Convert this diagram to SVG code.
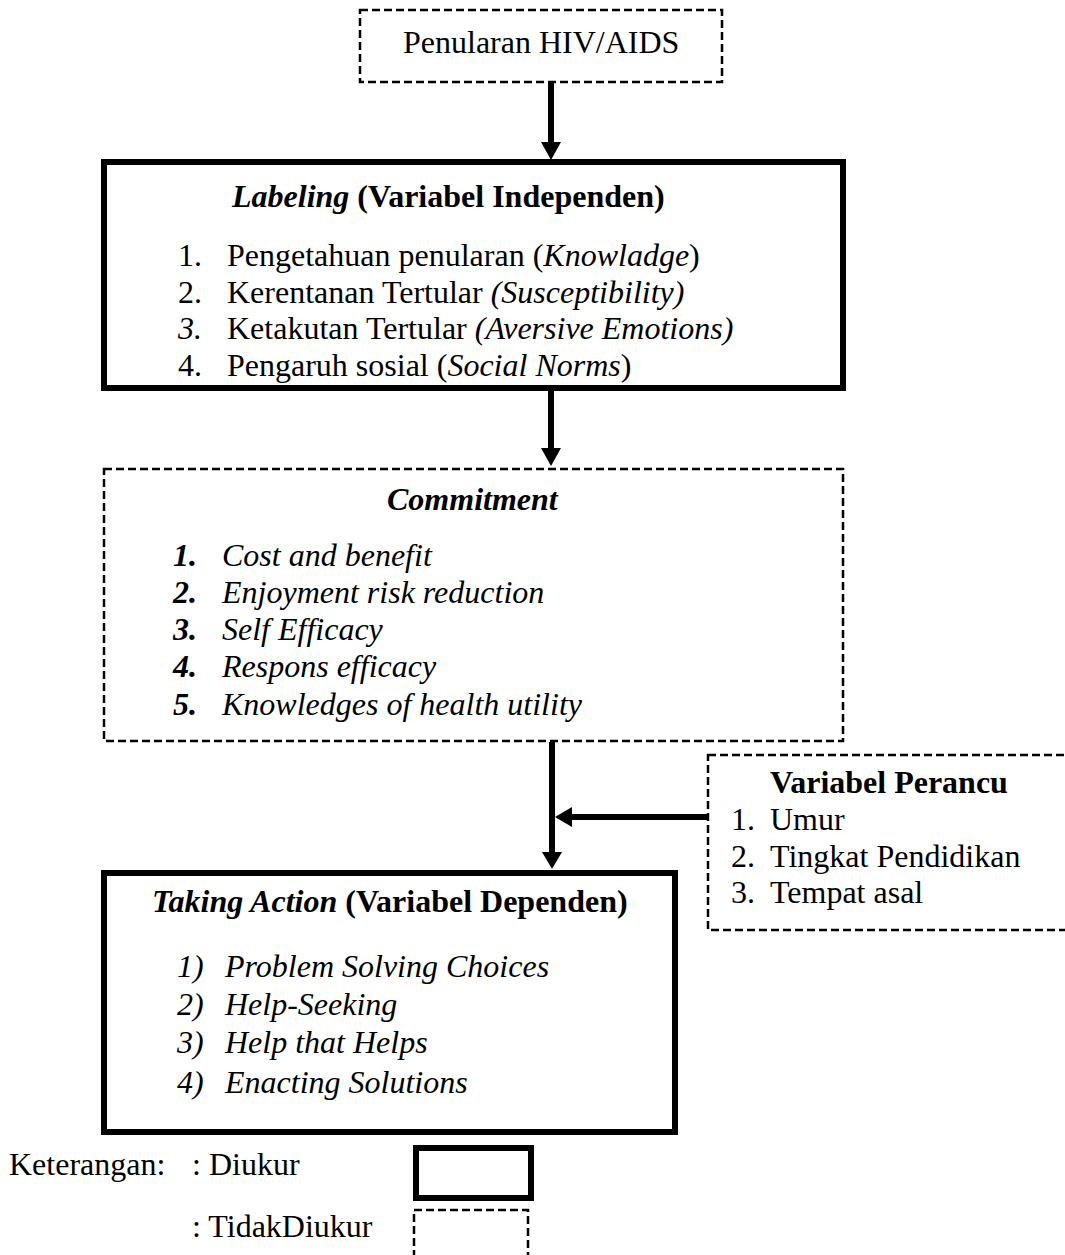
<svg xmlns="http://www.w3.org/2000/svg" width="1065" height="1255" viewBox="0 0 1065 1255">
<style>
text{font-family:"Liberation Serif","Times New Roman",serif;font-size:32px;fill:#000}
.i{font-style:italic}
.b{font-weight:bold}
.solid{fill:#fff;stroke:#000;stroke-width:6}
.dash{fill:#fff;stroke:#000;stroke-width:2.5;stroke-dasharray:8 4}
.ln{stroke:#000;stroke-width:6;fill:none}
.hd{fill:#000}
</style>
<rect width="1065" height="1255" fill="#fff"/>
<g id="connectors">
<line class="ln" x1="551" y1="83" x2="551" y2="146"/>
<polygon class="hd" points="541,142 561,142 551,160"/>
<line class="ln" x1="551" y1="390" x2="551" y2="452"/>
<polygon class="hd" points="541,448 561,448 551,466"/>
<line class="ln" x1="552" y1="742" x2="552" y2="856"/>
<polygon class="hd" points="542,852 562,852 552,869"/>
<line class="ln" x1="708" y1="817" x2="568" y2="817"/>
<polygon class="hd" points="572,807 572,827 555,817"/>
</g>
<g id="node-penularan">
<rect class="dash" x="360" y="10" width="362" height="72"/>
<text x="403" y="53">Penularan HIV/AIDS</text>
</g>
<g id="node-labeling">
<rect class="solid" x="104" y="162" width="739" height="226"/>
<text x="232" y="207" class="b"><tspan class="i">Labeling</tspan> (Variabel Independen)</text>
<text x="178" y="266">1.</text><text x="227" y="266">Pengetahuan penularan (<tspan class="i">Knowladge</tspan>)</text>
<text x="178" y="303">2.</text><text x="227" y="303">Kerentanan Tertular <tspan class="i">(Susceptibility)</tspan></text>
<text x="178" y="339" class="i">3.</text><text x="227" y="339">Ketakutan Tertular <tspan class="i">(Aversive Emotions)</tspan></text>
<text x="178" y="376">4.</text><text x="227" y="376">Pengaruh sosial (<tspan class="i">Social Norms</tspan>)</text>
</g>
<g id="node-commitment">
<rect class="dash" x="104" y="469" width="739" height="272"/>
<text x="387" y="510" class="b i">Commitment</text>
<text x="173" y="566" class="b i">1.</text><text x="222" y="566" class="i">Cost and benefit</text>
<text x="173" y="603" class="b i">2.</text><text x="222" y="603" class="i">Enjoyment risk reduction</text>
<text x="173" y="640" class="b i">3.</text><text x="222" y="640" class="i">Self Efficacy</text>
<text x="173" y="677" class="b i">4.</text><text x="222" y="677" class="i">Respons efficacy</text>
<text x="173" y="715" class="b i">5.</text><text x="222" y="715" class="i">Knowledges of health utility</text>
</g>
<g id="node-perancu">
<rect class="dash" x="708" y="755" width="380" height="175"/>
<text x="770" y="793" class="b">Variabel Perancu</text>
<text x="731" y="830">1.</text><text x="770" y="830">Umur</text>
<text x="731" y="867">2.</text><text x="770" y="867">Tingkat Pendidikan</text>
<text x="731" y="903">3.</text><text x="770" y="903">Tempat asal</text>
</g>
<g id="node-taking-action">
<rect class="solid" x="104" y="873" width="571" height="259"/>
<text x="152" y="912" class="b"><tspan class="i">Taking Action</tspan> (Variabel Dependen)</text>
<text x="177" y="977" class="i">1)</text><text x="225" y="977" class="i">Problem Solving Choices</text>
<text x="177" y="1015" class="i">2)</text><text x="225" y="1015" class="i">Help-Seeking</text>
<text x="177" y="1053" class="i">3)</text><text x="225" y="1053" class="i">Help that Helps</text>
<text x="177" y="1093" class="i">4)</text><text x="225" y="1093" class="i">Enacting Solutions</text>
</g>
<g id="legend">
<text x="9" y="1175">Keterangan:</text>
<text x="192" y="1175">: Diukur</text>
<rect class="solid" x="416" y="1148" width="115" height="50"/>
<text x="192" y="1237">: TidakDiukur</text>
<rect class="dash" x="414" y="1210" width="114" height="60"/>
</g>
</svg>
